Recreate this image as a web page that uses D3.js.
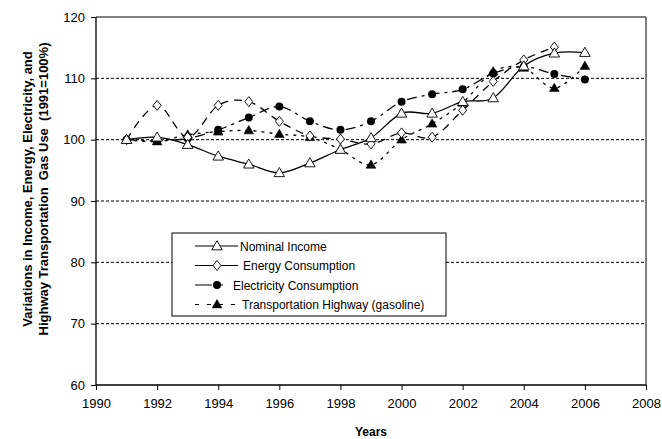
<!DOCTYPE html>
<html>
<head>
<meta charset="utf-8">
<script src="https://cdn.jsdelivr.net/npm/d3@7"></script>
<style>
  html, body { margin: 0; padding: 0; background: #fff; }
  svg { display: block; font-family: "Liberation Sans", Arial, sans-serif; }
</style>
</head>
<body>
<svg id="chart" width="662" height="439"></svg>
<script>
// Index values, 1991 = 100
const years = [1991, 1992, 1993, 1994, 1995, 1996, 1997, 1998, 1999, 2000, 2001, 2002, 2003, 2004, 2005, 2006];
const nominalIncome = [100, 100.4, 99.2, 97.3, 96.0, 94.6, 96.2, 98.4, 100.3, 104.3, 104.3, 106.2, 106.8, 112.0, 114.1, 114.2];
const energyConsumption = [100, 105.6, 100.4, 105.6, 106.2, 103.0, 100.6, 100.1, 99.3, 101.1, 100.4, 104.8, 109.5, 113.0, 115.1];
const electricityConsumption = [100, 99.8, 100.2, 101.6, 103.6, 105.4, 103.0, 101.6, 103.0, 106.2, 107.4, 108.2, 110.8, 111.9, 110.7, 109.8];
const transportationGasoline = [100, 99.7, 100.8, 101.3, 101.5, 100.9, 100.4, 98.4, 95.9, 100.0, 102.6, 106.0, 111.1, 111.7, 108.4, 112.0];

const xTicks = [1990, 1992, 1994, 1996, 1998, 2000, 2002, 2004, 2006, 2008];
const yTicks = [60, 70, 80, 90, 100, 110, 120];
const gridValues = [70, 80, 90, 100, 110];

const seriesNames = ["Nominal Income", "Energy Consumption", "Electricity Consumption", "Transportation Highway (gasoline)"];

const series = [
  { name: seriesNames[0], values: nominalIncome, marker: "triOpen", dash: null, legendDash: null, textX: 68 },
  { name: seriesNames[1], values: energyConsumption, marker: "diamond", dash: "8,6", legendDash: null, textX: 71 },
  { name: seriesNames[2], values: electricityConsumption, marker: "circle", dash: "10,5,3,5", legendDash: "17,6,5,30", textX: 61 },
  { name: seriesNames[3], values: transportationGasoline, marker: "triFilled", dash: "3,5", legendDash: "4,8", textX: 70 }
];

const svg = d3.select("#chart");
const plotL = 96, plotR = 646, plotT = 17, plotB = 385;

const x = d3.scaleLinear().domain([1990, 2008]).range([plotL, plotR]);
const y = d3.scaleLinear().domain([60, 120]).range([plotB, plotT]);

// horizontal dashed gridlines
svg.append("g").selectAll("line").data(gridValues).join("line")
  .attr("x1", plotL).attr("x2", plotR)
  .attr("y1", d => y(d)).attr("y2", d => y(d))
  .attr("stroke", "#000").attr("stroke-width", 1)
  .attr("stroke-dasharray", "3,2");

// plot frame (top and right edges)
svg.append("path")
  .attr("d", `M${plotL},${plotT}H${plotR}V${plotB}`)
  .attr("fill", "none").attr("stroke", "#000").attr("stroke-width", 1);

// axes
const yAxis = d3.axisLeft(y).tickValues(yTicks).tickSize(5).tickPadding(6);
const gy = svg.append("g").attr("transform", `translate(${plotL},0)`).call(yAxis);
const xAxis = d3.axisBottom(x).tickValues(xTicks).tickFormat(d3.format("d")).tickSize(5).tickPadding(9);
const gx = svg.append("g").attr("transform", `translate(0,${plotB})`).call(xAxis);
[gx, gy].forEach(g => {
  g.selectAll("path.domain").attr("stroke", "#000").attr("stroke-width", 1.3);
  g.selectAll(".tick line").attr("stroke", "#000");
  g.selectAll(".tick text").attr("font-size", 13).attr("fill", "#000")
    .attr("font-family", "Liberation Sans, Arial, sans-serif");
});
gy.select("path.domain").attr("d", `M0,${plotT}V${plotB}`);
gx.select("path.domain").attr("d", `M${plotL},0H${plotR}`);

// axis titles
svg.append("text")
  .attr("x", 371).attr("y", 436)
  .attr("text-anchor", "middle").attr("font-size", 12).attr("font-weight", "bold")
  .text("Years");

const yTitle = svg.append("text")
  .attr("transform", `translate(32,189) rotate(-90)`)
  .attr("text-anchor", "middle").attr("font-size", 13).attr("font-weight", "bold");
yTitle.append("tspan").attr("x", 0).attr("dy", 0).text("Variations in Income, Energy, Electricity, and");
yTitle.append("tspan").attr("x", 0).attr("dy", 16).attr("xml:space", "preserve")
  .text("Highway Transportation  Gas Use  (1991=100%)");

// marker drawing
function drawMarker(g, type) {
  if (type === "triOpen") {
    g.append("path").attr("d", d3.symbol(d3.symbolTriangle, 48)())
      .attr("transform", "translate(0,0.8)")
      .attr("fill", "#fff").attr("stroke", "#000").attr("stroke-width", 0.9);
  } else if (type === "triFilled") {
    g.append("path").attr("d", d3.symbol(d3.symbolTriangle, 40)())
      .attr("transform", "translate(0,0.6)")
      .attr("fill", "#000").attr("stroke", "#000").attr("stroke-width", 0.6);
  } else if (type === "diamond") {
    g.append("path").attr("d", "M0,-5L4,0L0,5L-4,0Z")
      .attr("fill", "#fff").attr("stroke", "#000").attr("stroke-width", 0.9);
  } else if (type === "circle") {
    g.append("circle").attr("r", 4).attr("fill", "#000");
  }
}

const line = d3.line()
  .x((d, i) => x(years[i]))
  .y(d => y(d))
  .curve(d3.curveCardinal.tension(0));

// series lines and markers, drawn back to front
const order = [3, 2, 1, 0];
order.forEach(k => {
  const s = series[k];
  svg.append("path").datum(s.values)
    .attr("d", line)
    .attr("fill", "none").attr("stroke", "#000").attr("stroke-width", 1.3)
    .attr("stroke-dasharray", s.dash);
});
order.forEach(k => {
  const s = series[k];
  s.values.forEach((v, i) => {
    const g = svg.append("g").attr("transform", `translate(${x(years[i])},${y(v)})`);
    drawMarker(g, s.marker);
  });
});

// legend
const lg = svg.append("g").attr("transform", "translate(172,233)");
lg.append("rect").attr("width", 274).attr("height", 83)
  .attr("fill", "#fff").attr("stroke", "#000").attr("stroke-width", 1);
series.forEach((s, i) => {
  const row = lg.append("g").attr("transform", `translate(0,${13 + i * 19.5})`);
  row.append("line").attr("x1", 23).attr("x2", 66).attr("y1", 0).attr("y2", 0)
    .attr("stroke", "#000").attr("stroke-width", 1.2)
    .attr("stroke-dasharray", s.legendDash);
  const m = row.append("g").attr("transform", "translate(45,0)");
  drawMarker(m, s.marker);
  row.append("text").attr("x", s.textX).attr("y", 4.5)
    .attr("font-size", 12).attr("fill", "#000").text(s.name);
});
</script>
</body>
</html>
